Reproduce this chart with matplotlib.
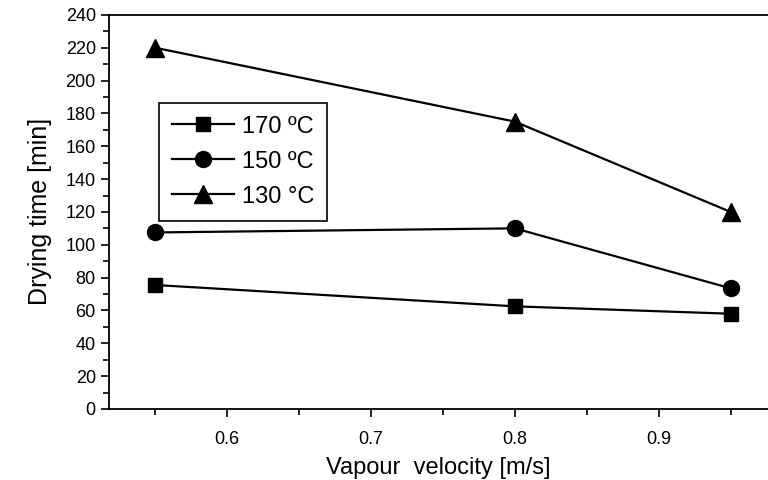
import numpy as np
import matplotlib.pyplot as plt
from matplotlib.ticker import MultipleLocator

plt.rcParams['font.family'] = ['Liberation Sans', 'DejaVu Sans']

velocity = [0.55, 0.8, 0.95]
t170 = [75.5, 62.5, 58]
t150 = [107.5, 110, 73.5]
t130 = [220, 175, 120]
labels = ['170 ºC', '150 ºC', '130 °C']

fig = plt.figure(figsize=(7.68, 4.8), dpi=100)
ax = fig.add_axes([0.142, 0.148, 0.858, 0.821])

ax.plot(velocity, t170, 'k-s', lw=1.6, ms=10.5, label=labels[0])
ax.plot(velocity, t150, 'k-o', lw=1.6, ms=11.5, label=labels[1])
ax.plot(velocity, t130, 'k-^', lw=1.6, ms=13, label=labels[2])

ax.set_xlim(0.518, 0.976)
ax.set_ylim(0, 240)
ax.set_xticks([0.6, 0.7, 0.8, 0.9])
ax.xaxis.set_minor_locator(MultipleLocator(0.05))
ax.yaxis.set_major_locator(MultipleLocator(20))
ax.yaxis.set_minor_locator(MultipleLocator(10))
ax.tick_params(which='major', direction='out', length=6, width=1.2, labelsize=13)
ax.tick_params(which='minor', direction='out', length=4, width=1.2)
ax.tick_params(axis='x', which='major', pad=10)
ax.spines['right'].set_visible(False)
for s in ['left', 'bottom', 'top']:
    ax.spines[s].set_linewidth(1.3)

ax.set_xlabel('Vapour  velocity [m/s]', fontsize=17, labelpad=6)
ax.set_ylabel('Drying time [min]', fontsize=18, labelpad=10)

leg = ax.legend(loc='upper left', bbox_to_anchor=(0.076, 0.777), borderaxespad=0,
                fontsize=17, numpoints=1, handlelength=2.6, handletextpad=0.35,
                fancybox=False, edgecolor='k', framealpha=1,
                borderpad=0.55, labelspacing=0.55)
leg.get_frame().set_linewidth(1.2)

fig.savefig('out.png', dpi=100)
